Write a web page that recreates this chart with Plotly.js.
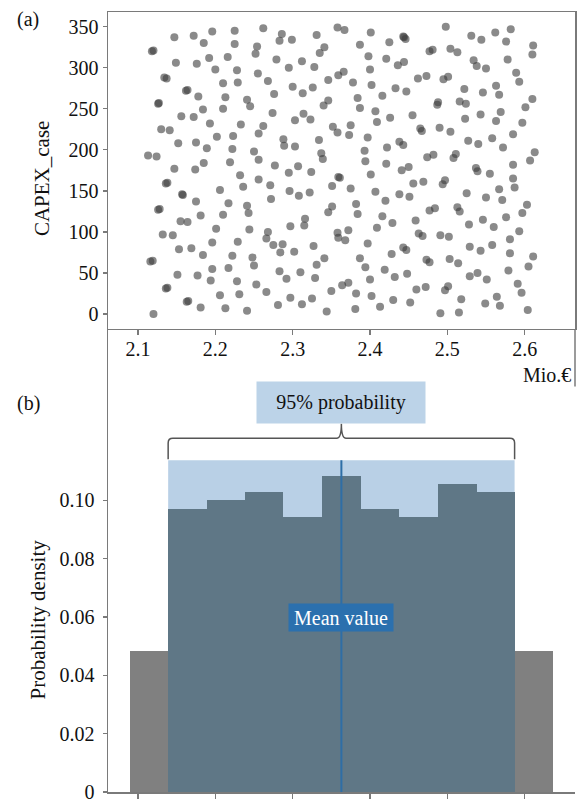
<!DOCTYPE html>
<html><head><meta charset="utf-8">
<script src="https://cdn.plot.ly/plotly-3.0.1.min.js"></script>
<style>html,body{margin:0;padding:0;background:#fff}#chart{width:577px;height:802px}</style>
</head><body><div id="chart"></div>
<script>
// ---- data: (a) Monte-Carlo CAPEX samples ----
const capexValue = [
2.120,2.147,2.172,2.196,2.225,2.262,2.286,2.283,2.299,2.185,2.225,2.254,2.252,2.149,2.176,2.192,2.216,2.200,2.228,2.279,
2.295,2.134,2.210,2.229,2.255,2.268,2.300,2.164,2.178,2.213,2.241,2.245,2.276,2.127,2.156,2.172,2.184,2.210,2.193,2.233,
2.262,2.256,2.274,2.303,2.130,2.141,2.152,2.175,2.189,2.202,2.223,2.222,2.250,2.256,2.277,2.288,2.289,2.303,2.113,2.124,
2.147,2.174,2.185,2.219,2.232,2.256,2.271,2.295,2.307,2.138,2.158,2.206,2.236,2.296,2.308,
2.118,2.137,2.162,2.126,2.136,2.157,
2.175,2.217,2.241,2.243,2.272,2.128,2.181,2.210,2.155,2.164,2.201,2.244,2.268,2.266,2.297,2.132,2.145,2.196,2.229,2.153,
2.169,2.184,2.222,2.248,2.250,2.275,2.287,2.284,2.302,2.116,2.119,2.151,2.177,2.194,2.196,2.217,2.228,2.253,2.266,2.283,
2.292,2.138,2.165,2.181,2.213,2.241,2.206,2.231,2.281,2.297,2.120,
2.126,2.136,2.163,
2.331,2.358,2.367,2.401,2.387,2.425,2.443,2.446,2.498,2.531,2.544,2.562,2.582,2.576,2.611,2.610,2.341,2.335,2.398,2.421,
2.436,2.444,2.477,2.481,2.504,2.513,2.534,2.538,2.550,2.578,2.589,2.593,2.312,2.328,2.400,2.359,2.366,2.346,2.378,2.402,
2.462,2.473,2.495,2.501,2.313,2.326,2.433,2.447,2.416,2.384,2.387,2.522,2.546,2.563,2.567,2.610,2.601,2.346,2.340,2.488,
2.487,2.516,2.524,2.407,2.409,2.426,2.455,2.569,2.563,2.543,2.523,2.314,2.323,2.352,2.358,2.375,2.373,2.397,2.422,2.393,
2.438,2.443,2.465,2.467,2.490,2.504,2.527,2.540,2.558,2.572,2.585,2.597,2.334,2.337,2.339,2.474,2.482,2.508,2.511,2.537,
2.539,2.555,2.585,2.613,2.607,2.324,2.361,2.351,2.375,2.394,2.401,2.421,2.441,2.450,2.456,2.469,2.494,2.497,2.525,2.550,
2.567,2.587,2.585,2.322,2.407,2.438,2.451,
2.444,2.359,
2.420,2.571,2.346,2.351,2.382,2.384,2.416,2.429,2.459,2.477,2.484,2.513,2.516,2.528,2.546,2.560,2.576,2.597,2.603,2.315,
2.316,2.358,2.359,2.368,2.372,2.397,2.409,2.463,2.468,2.491,2.502,2.529,2.543,2.558,2.581,2.593,2.581,2.605,2.611,2.327,
2.387,2.394,2.428,2.443,2.447,2.473,2.477,2.503,2.514,2.579,2.310,2.329,2.331,2.341,2.350,2.364,2.372,2.382,2.400,2.402,
2.419,2.432,2.448,2.460,2.472,2.497,2.501,2.518,2.529,2.539,2.551,2.564,2.568,2.549,2.591,2.596,2.312,2.325,2.344,2.381,
2.413,2.430,2.452,2.491,2.515,2.604
];
const capexCase = [
321,337,339,344,345,348,341,333,334,330,329,326,317,306,305,312,313,298,297,310,
300,288,281,282,293,284,277,273,265,264,261,253,268,257,241,240,249,250,232,231,
229,220,245,236,225,224,208,209,202,216,217,201,198,188,181,213,205,204,193,192,
177,176,184,185,169,164,157,172,180,160,145,151,155,150,144,
320,287,272,256,159,146,
137,135,132,123,140,128,120,121,113,112,104,103,100,92,107,97,96,87,88,79,
80,72,71,69,59,84,85,75,76,64,65,48,47,41,55,56,40,36,27,52,
43,32,16,8,7,4,23,24,11,20,0,
127,31,15,
340,349,346,343,328,331,338,335,350,339,334,343,347,332,327,316,325,318,314,311,
303,307,320,322,323,319,309,302,299,310,294,283,308,301,298,291,295,285,282,279,
287,290,286,289,269,276,275,271,266,263,251,274,270,278,267,262,252,260,254,258,
255,259,256,247,234,239,242,246,235,243,238,244,237,228,221,230,218,215,203,199,
210,206,226,223,227,222,211,207,214,203,219,233,212,196,189,191,194,190,195,178,
174,171,182,197,187,173,166,156,153,186,170,183,175,179,159,161,158,163,147,142,
152,154,165,148,149,146,143,
337,167,
138,139,124,131,134,122,119,111,114,126,129,130,125,109,115,106,118,123,133,108,
116,99,93,90,102,86,105,98,95,96,94,82,77,84,91,101,74,58,70,83,
68,57,73,81,78,66,63,67,62,53,51,44,60,68,28,35,38,25,42,22,
54,45,49,30,33,29,34,18,46,50,42,21,10,13,37,26,12,19,3,6,
9,17,14,1,2,5
];
const xTickVals = [2.1, 2.2, 2.3, 2.4, 2.5, 2.6];
const xTickText = ['2.1', '2.2', '2.3', '2.4', '2.5', '2.6'];
const caseTicks = [0, 50, 100, 150, 200, 250, 300, 350];

// ---- data: (b) histogram ----
const binCenters = [2.114, 2.164, 2.214, 2.263, 2.313, 2.363, 2.413, 2.463, 2.513, 2.562, 2.612];
const binDensity = [0.0485, 0.0969, 0.1000, 0.1029, 0.0943, 0.1085, 0.0969, 0.0943, 0.1058, 0.1029, 0.0485];
const binWidth = 0.0498;
const meanValue = 2.363;
const interval95 = [2.139, 2.587];
const intervalDensity = 0.1138;
const densityTicks = [0, 0.02, 0.04, 0.06, 0.08, 0.10];
const densityTickText = ['0', '0.02', '0.04', '0.06', '0.08', '0.10'];

// ---- drawing ----
const F = 'Liberation Serif, Times New Roman, serif';
const axisCol = '#7a7a7a';
const xRange = [2.0612, 2.6651];

const barColors = binCenters.map(c => (c > interval95[0] && c < interval95[1]) ? '#5f7786' : '#808080');

const traces = [
  {type: 'scatter', mode: 'markers', x: capexValue, y: capexCase, xaxis: 'x', yaxis: 'y',
   marker: {size: 8, color: 'rgba(60,60,60,0.6)', line: {width: 0}}, hoverinfo: 'x+y'},
  {type: 'bar', x: binCenters, y: binDensity, width: binWidth, xaxis: 'x2', yaxis: 'y2',
   marker: {color: barColors, line: {width: 0}}}
];

const x0 = interval95[0], x1 = interval95[1], xm = (x0 + x1) / 2;
const yb = intervalDensity + 0.0003, yh = intervalDensity + 0.0075, yt = intervalDensity + 0.0125;
const dx = 0.006, dy = 0.0016;
const bracePath = `M ${x0},${yb} L ${x0},${yh - dy} Q ${x0},${yh} ${x0 + dx},${yh} L ${xm - dx},${yh} Q ${xm},${yh} ${xm},${yt} Q ${xm},${yh} ${xm + dx},${yh} L ${x1 - dx},${yh} Q ${x1},${yh} ${x1},${yh - dy} L ${x1},${yb}`;

const splitY = 0.5936;
const layout = {
  width: 577, height: 802,
  margin: {l: 108, r: 2, t: 12, b: 10},
  paper_bgcolor: '#ffffff', plot_bgcolor: '#ffffff',
  showlegend: false, bargap: 0,
  font: {family: F, size: 20, color: '#111111'},
  xaxis: {domain: [0, 1], anchor: 'y', range: xRange, tickvals: xTickVals, ticktext: xTickText,
    ticks: 'outside', ticklen: 5, tickwidth: 1.2, tickcolor: axisCol, ticklabelstandoff: -3,
    showline: true, linecolor: axisCol, linewidth: 1.5, mirror: true, showgrid: false, zeroline: false,
    tickfont: {family: F, size: 20, color: '#111'}},
  yaxis: {domain: [splitY, 1], anchor: 'x', range: [-18.2, 367.9], tickvals: caseTicks,
    ticks: 'outside', ticklen: 4, tickwidth: 1.2, tickcolor: axisCol, ticklabelstandoff: 0,
    showline: true, linecolor: axisCol, linewidth: 1.5, mirror: true, showgrid: false, zeroline: false,
    tickfont: {family: F, size: 20, color: '#111'}},
  xaxis2: {domain: [0, 1], anchor: 'y2', range: xRange, tickvals: xTickVals, showticklabels: false,
    ticks: 'outside', ticklen: 5, tickwidth: 1.2, tickcolor: axisCol,
    showline: true, linecolor: axisCol, linewidth: 1.5, showgrid: false, zeroline: false},
  yaxis2: {domain: [0, splitY], anchor: 'x2', range: [0, 0.1588], tickvals: densityTicks, ticktext: densityTickText,
    ticks: 'outside', ticklen: 4, tickwidth: 1.2, tickcolor: axisCol, ticklabelstandoff: 4, ticklabeloverflow: 'allow',
    showline: true, linecolor: axisCol, linewidth: 1.5, showgrid: false, zeroline: false,
    tickfont: {family: F, size: 20, color: '#111'}},
  shapes: [
    {type: 'rect', xref: 'x2', yref: 'y2', x0: x0, x1: x1, y0: 0, y1: intervalDensity,
     fillcolor: '#b9d0e6', line: {width: 0}, layer: 'below'},
    {type: 'line', xref: 'x2', yref: 'y2', x0: meanValue, x1: meanValue, y0: 0, y1: intervalDensity,
     line: {color: '#2e6ea6', width: 2}},
    {type: 'path', xref: 'x2', yref: 'y2', path: bracePath, line: {color: '#555555', width: 1.5}},
    {type: 'line', xref: 'paper', yref: 'paper', x0: 1, x1: 1, y0: splitY, y1: 0.52,
     line: {color: axisCol, width: 1.5}}
  ],
  annotations: [
    {text: '(a)', xref: 'paper', yref: 'paper', x: -0.199, y: 0.9898, xanchor: 'left', yanchor: 'middle',
     showarrow: false, font: {family: F, size: 20, color: '#111'}},
    {text: '(b)', xref: 'paper', yref: 'paper', x: -0.199, y: 0.4987, xanchor: 'left', yanchor: 'middle',
     showarrow: false, font: {family: F, size: 20, color: '#111'}},
    {text: 'CAPEX_case', xref: 'paper', yref: 'paper', x: -0.1413, y: 0.7858, xanchor: 'center', yanchor: 'middle',
     textangle: -90, showarrow: false, font: {family: F, size: 21, color: '#111'}},
    {text: 'Probability density', xref: 'paper', yref: 'paper', x: -0.1499, y: 0.2212, xanchor: 'center', yanchor: 'middle',
     textangle: -90, showarrow: false, font: {family: F, size: 21, color: '#111'}},
    {text: 'Mio.€', xref: 'paper', yref: 'paper', x: 0.9957, y: 0.5345, xanchor: 'right', yanchor: 'middle',
     showarrow: false, font: {family: F, size: 20, color: '#111'}},
    {text: '95% probability', xref: 'x2', yref: 'y2', x: xm, y: intervalDensity + 0.0198, xanchor: 'center', yanchor: 'middle',
     showarrow: false, bgcolor: '#bcd3e8', width: 168, height: 41, borderpad: 0,
     font: {family: F, size: 20, color: '#111'}},
    {text: 'Mean value', xref: 'x2', yref: 'y2', x: meanValue, y: 0.0597, xanchor: 'center', yanchor: 'middle',
     showarrow: false, bgcolor: '#2b70ae', width: 104, height: 27, borderpad: 0,
     font: {family: F, size: 20, color: '#ffffff'}}
  ]
};

Plotly.newPlot('chart', traces, layout, {displayModeBar: false, staticPlot: true});
</script>
</body></html>
